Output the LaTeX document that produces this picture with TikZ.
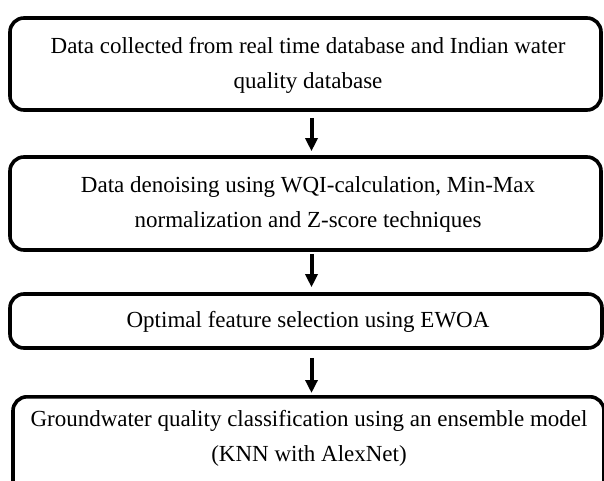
\documentclass[tikz,border=0pt]{standalone}
\usepackage{fontspec}
\setmainfont{Liberation Serif}
\usetikzlibrary{arrows.meta}
\begin{document}
\begin{tikzpicture}[x=1pt,y=-1pt,
  box/.style={draw=black, line width=3.6pt, rounded corners=14pt, minimum width=591pt, inner sep=0pt},
  txt/.style={align=center, font=\fontsize{23}{35}\selectfont, inner sep=0pt},
  arr/.style={line width=4pt, -{Triangle[width=12pt,length=13pt]}}]
\useasboundingbox (0,0) rectangle (604,481);
\clip (0,0) rectangle (604,481);
\node[box, minimum height=92pt] (b1) at (305.5,64) {};
\node[txt] (t1) at (308,65) {Data collected from real time database and Indian water\\quality database};
\node[box, minimum height=93pt] (b2) at (305.5,203.5) {};
\node[txt] (t2) at (308,204) {Data denoising using WQI-calculation, Min-Max\\normalization and Z-score techniques};
\node[box, minimum height=54pt, minimum width=592pt] (b3) at (306,321) {};
\node[txt] (t3) at (308,322) {Optimal feature selection using EWOA};
\node[box, minimum height=100pt, anchor=north] (b4) at (308.5,395) {};
\node[txt] (t4) at (309,438) {Groundwater quality classification using an ensemble model\\(KNN with AlexNet)};
\coordinate (ax) at (311.5,0);
\draw[arr, shorten <=6pt, shorten >=4pt] (b1.south -| ax) -- (b2.north -| ax);
\draw[arr, shorten <=2pt, shorten >=5pt] (b2.south -| ax) -- (b3.north -| ax);
\draw[arr, shorten <=8pt, shorten >=2pt] (b3.south -| ax) -- (b4.north -| ax);
\end{tikzpicture}
\end{document}
